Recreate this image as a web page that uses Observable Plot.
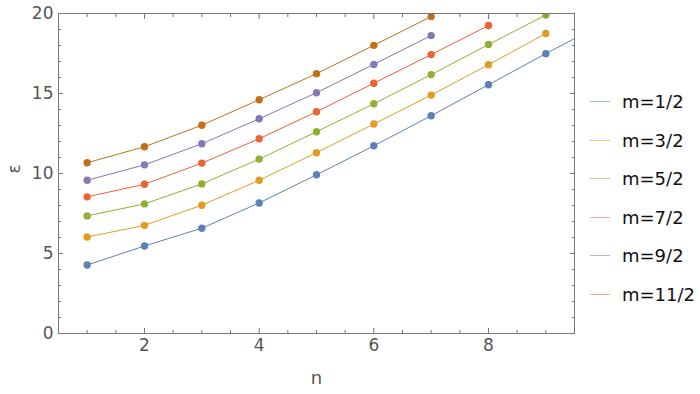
<!DOCTYPE html>
<html><head><meta charset="utf-8">
<script src="https://cdn.jsdelivr.net/npm/d3@7"></script>
<script src="https://cdn.jsdelivr.net/npm/@observablehq/plot@0.6"></script>
<style>
body{margin:0;background:#fff;}
#wrap{position:relative;width:700px;height:394px;}
#legend{position:absolute;left:590px;top:0;font-family:"DejaVu Sans";font-size:18px;color:#111;}
.row{position:absolute;left:0;display:flex;align-items:center;white-space:nowrap;height:22px;transform:translateY(-50%);}
.sw{width:20px;height:0;border-top:1.5px solid;margin-right:12px;opacity:0.55;}
</style></head><body><div id="wrap"><div id="legend"></div></div>
<script>
// data
const nValues = [1, 2, 3, 4, 5, 6, 7, 8, 9, 10];
const seriesLabels = ["m=1/2", "m=3/2", "m=5/2", "m=7/2", "m=9/2", "m=11/2"];
const seriesColors = ["#5e81b5", "#e19c24", "#8fb032", "#eb6235", "#8778b3", "#c56e1a"];
const eps_m1_2  = [4.28, 5.47, 6.58, 8.16, 9.92, 11.73, 13.61, 15.55, 17.49, 19.37];
const eps_m3_2  = [6.03, 6.76, 8.02, 9.58, 11.30, 13.09, 14.90, 16.80, 18.75];
const eps_m5_2  = [7.35, 8.10, 9.35, 10.90, 12.61, 14.36, 16.18, 18.06, 19.91];
const eps_m7_2  = [8.54, 9.33, 10.65, 12.17, 13.86, 15.64, 17.43, 19.25];
const eps_m9_2  = [9.58, 10.54, 11.86, 13.42, 15.05, 16.82, 18.62];
const eps_m11_2 = [10.67, 11.67, 13.02, 14.61, 16.24, 18.01, 19.81];
const xMajorTicks = [2, 4, 6, 8];
const xMinorTicks = [1, 1.5, 2.5, 3, 3.5, 4.5, 5, 5.5, 6.5, 7, 7.5, 8.5, 9];
const yMajorTicks = [0, 5, 10, 15, 20];
const yMinorTicks = [1, 2, 3, 4, 6, 7, 8, 9, 11, 12, 13, 14, 16, 17, 18, 19];

const allSeries = [eps_m1_2, eps_m3_2, eps_m5_2, eps_m7_2, eps_m9_2, eps_m11_2];
const data = allSeries.flatMap((vals, i) => vals.map((v, j) => ({n: nValues[j], e: v, m: seriesLabels[i]})));

const axisCol = "#777";
const textCol = "#555";
const tick = (fn, ticks, anchor, size) => fn(ticks, {anchor, tickSize: -size, tickFormat: () => "", stroke: axisCol, label: null});

const plot = Plot.plot({
  width: 700, height: 394,
  marginLeft: 58, marginRight: 126, marginTop: 13, marginBottom: 61,
  style: {fontFamily: "DejaVu Sans", fontSize: "17px", color: textCol, background: "white"},
  x: {domain: [0.5, 9.5], label: null},
  y: {domain: [0, 20], label: null},
  color: {domain: seriesLabels, range: seriesColors},
  marks: [
    Plot.line(data, {x: "n", y: "e", z: "m", stroke: "m", strokeWidth: 1, clip: true}),
    Plot.dot(data, {x: "n", y: "e", fill: "m", r: 3.7, clip: true}),
    Plot.frame({stroke: axisCol}),
    tick(Plot.axisX, xMajorTicks, "bottom", 5),
    tick(Plot.axisX, xMinorTicks, "bottom", 3),
    tick(Plot.axisX, xMajorTicks, "top", 5),
    tick(Plot.axisX, xMinorTicks, "top", 3),
    tick(Plot.axisY, yMajorTicks, "left", 5),
    tick(Plot.axisY, yMinorTicks, "left", 3),
    tick(Plot.axisY, yMajorTicks, "right", 5),
    tick(Plot.axisY, yMinorTicks, "right", 3),
    Plot.axisX(xMajorTicks, {anchor: "bottom", tickSize: 0, tickPadding: 5, label: null, fill: textCol, fontSize: 17}),
    Plot.axisY(yMajorTicks, {anchor: "left", tickSize: 0, tickPadding: 5, label: null, fill: textCol, fontSize: 17}),
    Plot.text(["n"], {frameAnchor: "bottom", dy: 45, lineAnchor: "middle", fill: textCol, fontSize: 18}),
    Plot.text(["ε"], {frameAnchor: "left", dx: -44, rotate: -90, lineAnchor: "middle", fill: textCol, fontSize: 17})
  ]
});
document.getElementById("wrap").prepend(plot);

const legend = document.getElementById("legend");
const rowY = [101.7, 140.2, 178.7, 217.2, 255.7, 294.2];
seriesLabels.forEach((lab, i) => {
  const row = document.createElement("div");
  row.className = "row";
  row.style.top = rowY[i] + "px";
  const sw = document.createElement("span");
  sw.className = "sw";
  sw.style.borderColor = seriesColors[i];
  const t = document.createElement("span");
  t.textContent = lab;
  row.append(sw, t);
  legend.append(row);
});
</script>
</body></html>
